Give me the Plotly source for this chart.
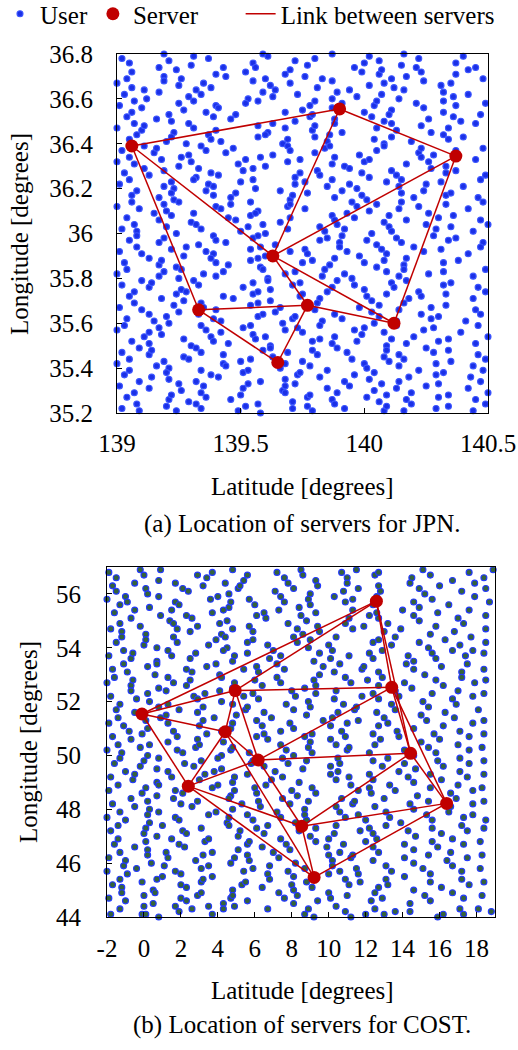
import plotly.graph_objects as go

FONT = "Liberation Serif, Times New Roman, serif"

# ---------------- data: JPN ----------------
jpn_server_lon = [139.06, 139.90, 140.37, 139.63, 139.33, 139.77, 140.12, 139.65]
jpn_server_lat = [36.39, 36.555, 36.345, 35.90, 35.66, 35.68, 35.60, 35.425]
jpn_links = [(0, 1), (1, 2), (0, 3), (0, 4), (1, 3), (2, 3), (2, 6),
             (3, 5), (3, 6), (4, 5), (4, 7), (5, 7), (5, 6)]
jpn_xtick_vals = [139, 139.5, 140, 140.5]
jpn_xtick_text = ["139", "139.5", "140", "140.5"]
jpn_ytick_vals = [35.2, 35.4, 35.6, 35.8, 36.0, 36.2, 36.4, 36.6, 36.8]
jpn_ytick_text = ["35.2", "35.4", "35.6", "35.8", "36", "36.2", "36.4", "36.6", "36.8"]

# user locations "lon,lat"
jpn_users = """
139.02,36.78 139.05,36.76 139.19,36.80 139.21,36.77 139.30,36.75 139.31,36.79 139.37,36.78 139.55,36.76 139.59,36.80 139.61,36.79 139.72,36.77 139.77,36.75 139.80,36.78 139.87,36.80 140.00,36.76 140.02,36.79 140.06,36.77 140.15,36.75 140.16,36.80 140.22,36.78 140.37,36.76 140.40,36.79
139.06,36.72 139.17,36.74 139.19,36.70 139.24,36.73 139.40,36.71 139.43,36.74 139.44,36.70 139.52,36.72 139.56,36.74 139.68,36.71 139.70,36.73 139.76,36.70 139.96,36.74 139.99,36.72 140.06,36.71 140.07,36.73 140.17,36.70 140.21,36.74 140.23,36.72 140.37,36.71 140.42,36.73 140.45,36.74
139.00,36.67 139.04,36.69 139.06,36.65 139.19,36.68 139.25,36.66 139.26,36.69 139.35,36.67 139.38,36.65 139.55,36.68 139.60,36.69 139.62,36.66 139.70,36.67 139.81,36.65 139.83,36.69 139.87,36.68 140.02,36.66 140.08,36.67 140.11,36.69 140.12,36.65 140.24,36.68 140.31,36.66 140.35,36.67 140.48,36.69
139.03,36.62 139.11,36.64 139.12,36.60 139.17,36.63 139.29,36.61 139.32,36.64 139.34,36.62 139.53,36.60 139.59,36.63 139.63,36.61 139.64,36.64 139.73,36.62 139.87,36.60 139.89,36.63 139.94,36.64 139.97,36.61 140.07,36.62 140.14,36.60 140.16,36.64 140.32,36.63 140.36,36.61 140.42,36.62
139.01,36.57 139.07,36.59 139.10,36.56 139.25,36.58 139.27,36.55 139.31,36.59 139.40,36.57 139.41,36.56 139.52,36.58 139.57,36.59 139.75,36.55 139.78,36.57 139.80,36.59 139.87,36.56 139.91,36.58 140.04,36.57 140.05,36.59 140.11,36.55 140.21,36.58 140.24,36.56 140.32,36.59 140.37,36.57 140.49,36.58
139.04,36.52 139.06,36.54 139.16,36.51 139.21,36.53 139.22,36.50 139.36,36.54 139.39,36.52 139.46,36.51 139.48,36.53 139.68,36.54 139.72,36.50 139.78,36.52 139.79,36.53 139.88,36.51 140.00,36.54 140.03,36.52 140.08,36.50 140.10,36.53 140.26,36.51 140.32,36.54 140.36,36.52 140.39,36.50 140.47,36.53
139.00,36.47 139.07,36.49 139.10,36.46 139.11,36.48 139.23,36.45 139.29,36.49 139.31,36.47 139.40,36.46 139.57,36.48 139.61,36.45 139.63,36.49 139.68,36.47 139.79,36.46 139.80,36.48 139.88,36.49 139.91,36.45 140.05,36.47 140.11,36.49 140.13,36.46 140.23,36.48 140.27,36.45 140.34,36.47 140.45,36.49
139.05,36.42 139.08,36.44 139.20,36.41 139.22,36.43 139.28,36.40 139.37,36.44 139.38,36.42 139.42,36.41 139.57,36.43 139.60,36.44 139.67,36.40 139.69,36.42 139.80,36.43 139.85,36.41 139.86,36.44 140.04,36.42 140.08,36.40 140.11,36.43 140.19,36.41 140.32,36.44 140.34,36.42 140.40,36.43
139.02,36.37 139.11,36.39 139.15,36.36 139.16,36.38 139.29,36.35 139.34,36.39 139.36,36.37 139.44,36.36 139.47,36.38 139.63,36.35 139.69,36.39 139.70,36.37 139.80,36.36 139.84,36.38 139.86,36.39 139.98,36.35 140.05,36.37 140.08,36.39 140.22,36.36 140.23,36.38 140.28,36.35 140.37,36.37 140.48,36.38
139.00,36.32 139.05,36.34 139.07,36.31 139.18,36.33 139.25,36.30 139.26,36.34 139.30,36.32 139.49,36.31 139.52,36.33 139.58,36.34 139.60,36.30 139.69,36.32 139.74,36.33 139.87,36.31 139.88,36.34 139.92,36.30 140.00,36.32 140.02,36.33 140.17,36.31 140.23,36.34 140.26,36.32 140.33,36.30 140.45,36.33
139.03,36.27 139.11,36.29 139.13,36.26 139.19,36.28 139.32,36.25 139.33,36.29 139.38,36.27 139.41,36.26 139.51,36.28 139.55,36.29 139.72,36.25 139.74,36.27 139.81,36.28 139.82,36.26 139.94,36.29 139.99,36.27 140.02,36.25 140.11,36.28 140.13,36.26 140.27,36.29 140.33,36.27 140.37,36.28 140.49,36.26
139.01,36.22 139.05,36.24 139.19,36.21 139.22,36.23 139.23,36.20 139.31,36.24 139.37,36.22 139.39,36.21 139.50,36.23 139.55,36.24 139.56,36.20 139.72,36.22 139.76,36.23 139.85,36.21 139.87,36.24 139.94,36.22 139.97,36.20 140.09,36.23 140.14,36.21 140.15,36.24 140.25,36.22 140.31,36.23 140.40,36.21 140.47,36.24
139.06,36.17 139.08,36.19 139.17,36.16 139.22,36.18 139.23,36.15 139.36,36.19 139.39,36.17 139.46,36.16 139.48,36.18 139.66,36.19 139.70,36.15 139.71,36.17 139.77,36.18 139.88,36.16 139.91,36.19 139.99,36.17 140.01,36.15 140.15,36.18 140.20,36.16 140.24,36.19 140.33,36.17 140.35,36.18 140.46,36.16
139.00,36.12 139.06,36.14 139.09,36.11 139.19,36.13 139.20,36.10 139.25,36.14 139.40,36.12 139.42,36.11 139.46,36.13 139.54,36.14 139.57,36.10 139.69,36.12 139.70,36.13 139.76,36.11 139.95,36.14 139.97,36.12 140.02,36.10 140.05,36.13 140.14,36.11 140.15,36.14 140.22,36.12 140.33,36.13 140.42,36.11 140.48,36.14
139.04,36.07 139.15,36.09 139.17,36.06 139.22,36.08 139.30,36.05 139.31,36.09 139.45,36.07 139.48,36.06 139.54,36.08 139.56,36.09 139.66,36.05 139.70,36.07 139.87,36.08 139.88,36.06 139.93,36.09 139.96,36.07 140.08,36.05 140.10,36.08 140.17,36.06 140.26,36.09 140.30,36.07 140.36,36.08 140.47,36.06
139.02,36.02 139.07,36.04 139.08,36.01 139.20,36.03 139.24,36.00 139.32,36.04 139.34,36.02 139.50,36.01 139.53,36.03 139.59,36.04 139.60,36.00 139.69,36.02 139.82,36.03 139.84,36.01 139.89,36.04 139.92,36.02 140.03,36.00 140.10,36.03 140.11,36.01 140.25,36.04 140.29,36.02 140.35,36.03 140.44,36.01 140.50,36.04
139.05,35.97 139.08,35.99 139.17,35.96 139.19,35.98 139.33,35.95 139.39,35.99 139.40,35.97 139.44,35.96 139.55,35.98 139.57,35.99 139.64,35.95 139.82,35.97 139.85,35.98 139.90,35.96 139.91,35.99 140.01,35.97 140.05,35.95 140.13,35.98 140.15,35.96 140.28,35.99 140.34,35.97 140.37,35.98 140.48,35.96
139.01,35.92 139.08,35.94 139.10,35.91 139.22,35.93 139.27,35.90 139.28,35.94 139.36,35.92 139.39,35.91 139.54,35.93 139.58,35.94 139.60,35.90 139.70,35.92 139.76,35.93 139.77,35.91 139.90,35.94 139.93,35.92 139.98,35.90 140.07,35.93 140.09,35.91 140.20,35.94 140.24,35.92 140.31,35.93 140.42,35.91 140.47,35.94
139.03,35.87 139.13,35.89 139.17,35.86 139.18,35.88 139.24,35.85 139.38,35.89 139.40,35.87 139.45,35.86 139.54,35.88 139.57,35.89 139.58,35.85 139.75,35.87 139.79,35.88 139.86,35.86 139.88,35.89 140.00,35.87 140.05,35.85 140.08,35.88 140.16,35.86 140.17,35.89 140.32,35.87 140.38,35.88
139.00,35.82 139.04,35.84 139.17,35.81 139.19,35.83 139.25,35.80 139.26,35.84 139.35,35.82 139.40,35.81 139.43,35.83 139.59,35.84 139.61,35.80 139.68,35.82 139.72,35.83 139.83,35.81 139.84,35.84 139.92,35.82 139.95,35.80 140.09,35.83 140.14,35.81 140.16,35.84 140.26,35.82 140.32,35.83 140.44,35.81 140.49,35.84
139.02,35.77 139.10,35.79 139.13,35.76 139.14,35.78 139.26,35.75 139.31,35.79 139.33,35.77 139.51,35.76 139.55,35.78 139.61,35.79 139.62,35.75 139.71,35.77 139.74,35.78 139.87,35.76 139.89,35.79 139.96,35.77 140.00,35.75 140.11,35.78 140.12,35.76 140.17,35.79 140.32,35.77 140.35,35.78 140.46,35.76
139.05,35.72 139.07,35.74 139.18,35.71 139.24,35.73 139.27,35.70 139.28,35.74 139.43,35.72 139.47,35.71 139.55,35.73 139.57,35.74 139.62,35.70 139.74,35.72 139.75,35.73 139.82,35.71 139.85,35.74 140.01,35.72 140.03,35.70 140.09,35.73 140.18,35.71 140.22,35.74 140.23,35.72 140.33,35.73 140.44,35.71 140.49,35.74
139.01,35.67 139.07,35.69 139.10,35.66 139.23,35.68 139.25,35.65 139.34,35.69 139.35,35.67 139.40,35.66 139.54,35.68 139.57,35.69 139.64,35.65 139.66,35.67 139.76,35.68 139.80,35.66 139.81,35.69 139.98,35.67 140.03,35.65 140.06,35.68 140.14,35.66 140.16,35.69 140.27,35.67 140.33,35.68 140.45,35.66
139.04,35.62 139.13,35.64 139.15,35.61 139.20,35.63 139.21,35.60 139.33,35.64 139.39,35.62 139.42,35.61 139.57,35.63 139.59,35.64 139.67,35.60 139.71,35.62 139.72,35.63 139.83,35.61 139.88,35.64 139.91,35.62 140.04,35.60 140.06,35.63 140.13,35.61 140.23,35.64 140.27,35.62 140.30,35.63 140.41,35.61 140.47,35.64
139.00,35.57 139.03,35.59 139.13,35.56 139.17,35.58 139.18,35.55 139.34,35.59 139.36,35.57 139.42,35.56 139.51,35.58 139.54,35.59 139.55,35.55 139.68,35.57 139.73,35.58 139.75,35.56 139.82,35.59 139.96,35.57 139.99,35.55 140.00,35.58 140.08,35.56 140.13,35.59 140.24,35.57 140.28,35.58 140.39,35.56 140.46,35.59
139.06,35.52 139.11,35.54 139.13,35.51 139.27,35.53 139.30,35.50 139.38,35.54 139.39,35.52 139.45,35.51 139.56,35.53 139.60,35.54 139.62,35.50 139.79,35.52 139.82,35.53 139.87,35.51 139.88,35.54 139.97,35.52 140.09,35.50 140.11,35.53 140.17,35.51 140.20,35.54 140.30,35.52 140.34,35.53 140.45,35.51 140.50,35.54
139.02,35.47 139.09,35.49 139.13,35.46 139.14,35.48 139.27,35.45 139.32,35.49 139.34,35.47 139.43,35.46 139.59,35.48 139.62,35.49 139.63,35.45 139.69,35.47 139.79,35.48 139.81,35.46 139.89,35.49 139.93,35.47 140.08,35.45 140.09,35.48 140.14,35.46 140.25,35.49 140.28,35.47 140.34,35.48 140.46,35.46
139.00,35.42 139.05,35.44 139.16,35.41 139.19,35.43 139.21,35.40 139.29,35.44 139.43,35.42 139.44,35.41 139.50,35.43 139.54,35.44 139.66,35.40 139.68,35.42 139.75,35.43 139.78,35.41 139.95,35.44 140.00,35.42 140.01,35.40 140.10,35.43 140.14,35.41 140.16,35.44 140.29,35.42 140.35,35.43 140.44,35.41 140.49,35.44
139.03,35.37 139.05,35.39 139.14,35.36 139.20,35.38 139.21,35.35 139.34,35.39 139.38,35.37 139.41,35.36 139.51,35.38 139.53,35.39 139.68,35.35 139.73,35.37 139.74,35.38 139.82,35.36 139.85,35.39 139.96,35.37 140.02,35.35 140.04,35.38 140.18,35.36 140.22,35.39 140.29,35.37 140.32,35.38 140.43,35.36 140.48,35.39
139.01,35.32 139.09,35.34 139.13,35.31 139.25,35.33 139.26,35.30 139.32,35.34 139.35,35.32 139.51,35.31 139.53,35.33 139.58,35.34 139.67,35.30 139.68,35.32 139.72,35.33 139.85,35.31 139.92,35.34 139.94,35.32 140.04,35.30 140.07,35.33 140.13,35.31 140.14,35.34 140.25,35.32 140.30,35.33 140.42,35.31 140.47,35.34
139.04,35.27 139.07,35.29 139.21,35.26 139.22,35.28 139.29,35.25 139.34,35.29 139.36,35.27 139.46,35.26 139.50,35.28 139.68,35.29 139.71,35.25 139.77,35.27 139.78,35.28 139.87,35.26 139.89,35.29 140.01,35.27 140.06,35.25 140.09,35.28 140.17,35.26 140.19,35.29 140.30,35.27 140.34,35.28 140.45,35.26 140.50,35.29
139.02,35.22 139.08,35.24 139.09,35.21 139.20,35.23 139.24,35.21 139.32,35.24 139.34,35.22 139.49,35.21 139.52,35.23 139.57,35.24 139.58,35.20 139.71,35.22 139.77,35.23 139.79,35.21 139.88,35.24 139.92,35.22 140.08,35.21 140.09,35.23 140.16,35.21 140.19,35.24 140.29,35.22 140.34,35.23 140.44,35.21 140.49,35.24
"""

# ---------------- data: COST ----------------
cost_server_lon = [12.58, 4.94, 13.41, -0.11, 4.40, 6.18, 14.43, 2.40, 16.38, 8.54, 9.21]
cost_server_lat = [55.73, 52.41, 52.53, 51.54, 50.88, 49.83, 50.08, 48.86, 48.22, 47.37, 45.47]
cost_links = [(0, 3), (0, 1), (0, 2), (0, 6), (1, 3), (1, 4), (1, 5), (1, 2),
              (3, 4), (3, 7), (4, 7), (4, 5), (4, 10), (5, 2), (5, 6), (5, 7),
              (5, 9), (7, 9), (7, 10), (9, 6), (9, 8), (9, 10), (10, 8),
              (2, 6), (6, 8), (2, 8)]
cost_xtick_vals = [-2, 0, 2, 4, 6, 8, 10, 12, 14, 16, 18]
cost_xtick_text = ["-2", "0", "2", "4", "6", "8", "10", "12", "14", "16", "18"]
cost_ytick_vals = [44, 46, 48, 50, 52, 54, 56]
cost_ytick_text = ["44", "46", "48", "50", "52", "54", "56"]

cost_users = """
-1.9,56.8 -1.5,56.6 -0.2,56.9 0.0,56.7 0.8,56.5 0.9,56.9 2.9,56.7 3.4,56.6 3.7,56.8 4.8,56.9 5.4,56.5 5.6,56.7 7.2,56.8 7.6,56.6 8.5,56.9 8.6,56.7 9.3,56.5 10.7,56.8 11.0,56.6 11.5,56.9 12.5,56.7 12.7,56.8 14.5,56.6 15.1,56.9 15.5,56.7 16.7,56.5 17.6,56.8 18.4,56.6 18.9,56.9
-1.7,56.3 -1.5,56.1 -0.5,56.4 0.1,56.2 0.2,56.0 1.7,56.4 2.1,56.2 2.4,56.1 3.2,56.3 4.4,56.4 4.6,56.0 5.1,56.2 5.2,56.3 7.1,56.1 7.8,56.4 8.1,56.2 9.0,56.0 9.4,56.3 10.8,56.1 11.0,56.4 11.6,56.2 12.7,56.3 12.8,56.1 14.4,56.4 14.9,56.2 15.2,56.0 16.0,56.3 17.2,56.1 17.9,56.4 18.5,56.2
-2.0,55.8 -1.3,55.6 -1.0,55.9 -0.9,55.7 0.3,55.5 0.8,55.9 1.7,55.7 1.9,55.6 3.6,55.8 4.0,55.9 4.6,55.5 4.7,55.7 5.7,55.8 6.0,55.6 7.4,55.9 7.6,55.7 8.4,55.5 8.9,55.8 9.0,55.6 10.3,55.9 10.9,55.7 11.3,55.8 12.4,55.6 12.6,55.9 14.6,55.7 14.9,55.5 15.6,55.8 16.5,55.6 17.9,55.9 18.7,55.7
-1.6,55.3 -0.7,55.1 -0.5,55.4 0.9,55.2 1.4,55.0 1.5,55.4 2.3,55.2 2.6,55.1 3.7,55.3 4.3,55.4 4.5,55.0 6.1,55.2 6.5,55.3 6.6,55.1 7.3,55.4 8.5,55.2 8.8,55.0 9.3,55.3 11.1,55.1 11.3,55.4 12.2,55.2 12.6,55.3 12.7,55.1 14.0,55.4 14.6,55.2 14.9,55.0 15.9,55.3 17.0,55.1 17.6,55.4 18.5,55.2
-1.8,54.7 -1.3,54.9 -1.2,54.6 -0.2,54.8 0.1,54.5 1.6,54.9 1.8,54.7 2.5,54.6 2.9,54.8 4.1,54.9 4.2,54.5 4.8,54.7 5.7,54.8 5.9,54.6 7.8,54.9 8.3,54.7 8.6,54.5 9.4,54.8 9.5,54.6 10.9,54.9 11.3,54.7 11.9,54.8 13.0,54.6 13.2,54.9 13.9,54.7 15.5,54.5 15.8,54.8 16.8,54.6 17.3,54.9 18.5,54.7
-1.5,54.2 -1.2,54.4 0.0,54.1 0.1,54.3 0.7,54.0 1.6,54.4 1.8,54.2 3.5,54.1 3.9,54.3 4.4,54.4 4.5,54.0 5.6,54.2 5.9,54.3 6.7,54.1 8.1,54.4 8.3,54.2 8.9,54.0 9.0,54.3 10.0,54.1 10.4,54.4 12.4,54.2 12.7,54.3 13.4,54.1 13.6,54.4 14.9,54.2 15.4,54.0 16.3,54.3 17.1,54.1 17.7,54.4 18.5,54.2
-1.9,53.7 -1.1,53.9 -0.7,53.6 -0.6,53.8 0.7,53.5 1.3,53.9 1.5,53.7 2.5,53.6 2.8,53.8 4.3,53.9 4.8,53.5 4.9,53.7 5.6,53.8 6.8,53.6 7.0,53.9 7.4,53.7 9.2,53.5 9.5,53.8 10.1,53.6 10.2,53.9 11.1,53.7 12.2,53.8 12.4,53.6 12.9,53.9 14.3,53.7 14.6,53.5 15.6,53.8 15.8,53.6 16.7,53.9 17.4,53.7 18.4,53.8 17.8,53.9
-1.7,53.2 -1.1,53.4 -0.9,53.1 0.2,53.3 0.6,53.0 0.7,53.4 2.3,53.2 2.6,53.1 3.4,53.3 3.9,53.4 4.1,53.0 5.4,53.2 6.1,53.3 6.2,53.1 7.2,53.4 7.6,53.2 9.5,53.0 9.7,53.3 10.3,53.1 10.6,53.4 11.8,53.2 11.9,53.3 12.7,53.1 14.2,53.4 14.6,53.2 15.2,53.0 16.1,53.3 17.2,53.1 17.5,53.4 18.4,53.2
-2.0,52.7 -1.6,52.9 -0.7,52.6 -0.6,52.8 0.8,52.5 1.3,52.9 1.6,52.7 2.3,52.6 2.5,52.8 4.2,52.9 4.8,52.5 4.9,52.7 6.0,52.8 6.4,52.6 7.2,52.9 7.4,52.7 8.7,52.5 9.2,52.8 9.3,52.6 10.9,52.9 11.2,52.7 12.1,52.8 12.7,52.6 12.9,52.9 14.1,52.7 14.5,52.5 15.8,52.8 16.2,52.6 17.2,52.9 17.9,52.7 18.5,52.8
-1.8,52.2 -0.7,52.4 -0.4,52.1 0.2,52.3 0.3,52.0 1.2,52.4 2.7,52.2 2.9,52.1 3.3,52.3 4.1,52.4 4.2,52.0 5.4,52.2 5.9,52.3 6.2,52.1 8.0,52.4 8.2,52.2 8.9,52.0 9.3,52.3 10.3,52.1 10.4,52.4 11.8,52.2 12.4,52.3 12.7,52.1 13.6,52.4 13.8,52.2 15.1,52.0 15.6,52.3 16.7,52.1 17.0,52.4 17.8,52.2 18.4,52.3
-1.5,51.7 -1.3,51.9 -0.5,51.6 0.8,51.8 1.2,51.5 1.3,51.9 1.9,51.7 2.9,51.6 3.2,51.8 4.8,51.9 5.0,51.5 5.5,51.7 5.6,51.8 6.5,51.6 7.7,51.9 8.1,51.7 8.8,51.5 9.0,51.8 10.5,51.6 10.8,51.9 11.4,51.7 11.5,51.8 12.6,51.6 13.4,51.9 13.6,51.7 15.0,51.5 15.4,51.8 16.3,51.6 16.9,51.9 18.1,51.7
-1.9,51.2 -1.4,51.4 -1.1,51.1 0.1,51.3 0.2,51.0 0.9,51.4 1.3,51.2 3.0,51.1 3.2,51.3 3.8,51.4 4.7,51.0 4.8,51.2 6.1,51.3 6.4,51.1 6.9,51.4 7.9,51.2 8.1,51.0 9.7,51.3 10.1,51.1 10.2,51.4 11.0,51.2 11.6,51.3 12.7,51.1 13.0,51.4 13.2,51.2 14.6,51.0 15.3,51.3 16.2,51.1 16.8,51.4 17.8,51.2 18.4,51.3
-1.7,50.7 -0.8,50.9 -0.7,50.6 -0.1,50.8 1.3,50.5 1.6,50.9 1.8,50.7 2.9,50.6 3.4,50.8 4.2,50.9 4.3,50.5 6.1,50.7 6.5,50.8 6.7,50.6 7.4,50.9 8.7,50.7 9.0,50.5 9.1,50.8 10.1,50.6 10.7,50.9 10.9,50.7 12.4,50.8 12.8,50.6 13.7,50.9 13.8,50.7 15.0,50.5 15.7,50.8 16.0,50.6 17.1,50.9 17.6,50.7 18.4,50.8
-2.0,50.2 -1.4,50.4 -1.2,50.1 -0.2,50.3 0.2,50.0 0.3,50.4 1.8,50.2 2.1,50.1 2.8,50.3 3.0,50.4 4.2,50.0 4.7,50.2 4.8,50.3 5.7,50.1 7.4,50.4 7.7,50.2 8.1,50.0 8.9,50.3 9.1,50.1 10.4,50.4 11.0,50.2 11.1,50.3 12.2,50.1 12.5,50.4 14.1,50.2 14.6,50.0 15.4,50.3 15.8,50.1 17.0,50.4 17.6,50.2 18.3,50.3
-1.6,49.7 -1.3,49.9 -0.2,49.6 0.0,49.8 0.7,49.5 0.8,49.9 2.2,49.7 2.7,49.6 3.1,49.8 4.0,49.9 4.2,49.5 5.8,49.7 5.9,49.8 6.5,49.6 7.5,49.9 7.8,49.7 8.6,49.5 8.8,49.8 10.1,49.6 10.5,49.9 10.6,49.7 12.4,49.8 12.9,49.6 13.2,49.9 14.1,49.7 14.7,49.5 15.9,49.8 16.2,49.6 17.1,49.9 17.6,49.7 18.4,49.8
-1.8,49.2 -1.0,49.4 -0.6,49.1 -0.5,49.3 0.7,49.0 1.3,49.4 1.5,49.2 3.0,49.1 3.3,49.3 3.8,49.4 4.8,49.0 4.9,49.2 5.6,49.3 6.9,49.1 7.1,49.4 7.5,49.2 8.4,49.0 10.1,49.3 10.4,49.1 10.5,49.4 11.1,49.2 12.2,49.3 12.4,49.1 13.8,49.4 14.3,49.2 14.6,49.0 15.5,49.3 16.1,49.1 17.1,49.4 17.5,49.2 18.4,49.3
-1.9,48.7 -1.4,48.9 -0.1,48.6 0.1,48.8 0.7,48.5 0.8,48.9 1.7,48.7 2.1,48.6 3.7,48.8 4.0,48.9 4.7,48.5 4.9,48.7 6.0,48.8 6.1,48.6 6.6,48.9 8.0,48.7 8.3,48.5 9.1,48.8 9.3,48.6 11.2,48.9 11.6,48.7 12.2,48.8 12.3,48.6 13.3,48.9 13.6,48.7 14.8,48.5 15.5,48.8 16.6,48.6 17.0,48.9 17.8,48.7 18.3,48.8
-1.7,48.2 -0.7,48.4 -0.5,48.1 0.2,48.3 0.3,48.0 1.6,48.4 2.0,48.2 2.6,48.1 2.9,48.3 4.6,48.4 4.8,48.0 5.3,48.2 6.2,48.3 6.3,48.1 7.5,48.4 7.9,48.2 8.7,48.0 8.9,48.3 10.4,48.1 10.7,48.4 11.3,48.2 11.4,48.3 12.5,48.1 13.0,48.4 14.4,48.2 14.6,48.0 15.4,48.3 16.6,48.1 16.9,48.4 17.8,48.2 18.4,48.3
-2.0,47.7 -1.3,47.9 -1.0,47.6 0.2,47.8 0.3,47.5 0.8,47.9 1.7,47.7 1.9,47.6 3.5,47.8 3.9,47.9 4.5,47.5 4.6,47.7 5.6,47.8 5.9,47.6 7.2,47.9 7.4,47.7 8.2,47.5 8.7,47.8 8.8,47.6 10.6,47.9 10.9,47.7 11.6,47.8 12.0,47.6 13.1,47.9 13.3,47.7 13.9,47.5 15.3,47.8 15.6,47.6 16.5,47.9 17.3,47.7 17.8,47.8 18.5,47.6
-1.8,47.2 -1.4,47.4 0.0,47.1 0.1,47.3 0.7,47.0 1.0,47.4 2.1,47.2 2.3,47.1 3.1,47.3 4.6,47.4 5.1,47.0 5.2,47.2 6.1,47.3 6.5,47.1 6.7,47.4 8.4,47.2 9.0,47.0 9.3,47.3 10.3,47.1 10.4,47.4 11.7,47.2 12.2,47.3 12.4,47.1 13.1,47.4 14.3,47.2 14.7,47.0 15.6,47.3 16.1,47.1 17.2,47.4 17.5,47.2 18.4,47.3
-1.6,46.7 -1.4,46.9 -0.5,46.6 0.1,46.8 0.2,46.5 1.5,46.9 1.9,46.7 2.2,46.6 3.3,46.8 3.5,46.9 5.1,46.5 5.6,46.7 5.7,46.8 6.4,46.6 7.4,46.9 7.7,46.7 7.9,46.5 9.3,46.8 9.9,46.6 10.0,46.9 10.8,46.7 12.0,46.8 12.4,46.6 12.6,46.9 14.1,46.7 14.6,46.5 15.6,46.8 15.9,46.6 16.7,46.9 17.3,46.7 18.2,46.8
-1.9,46.2 -1.3,46.4 -1.0,46.1 0.2,46.3 0.4,46.0 1.2,46.4 1.3,46.2 2.8,46.1 3.2,46.3 3.7,46.4 4.7,46.0 4.9,46.2 5.6,46.3 5.7,46.1 7.0,46.4 7.3,46.2 8.2,46.0 10.0,46.3 10.2,46.1 10.6,46.4 11.2,46.2 11.3,46.3 12.4,46.1 12.7,46.4 14.1,46.2 14.6,46.0 15.4,46.3 16.4,46.1 16.6,46.4 17.5,46.2 18.3,46.3
-2.0,45.7 -1.1,45.9 -0.9,45.6 -0.4,45.8 1.0,45.5 1.1,45.9 1.7,45.7 2.0,45.6 3.1,45.8 3.5,45.9 3.7,45.5 5.4,45.7 5.9,45.8 6.7,45.6 6.8,45.9 7.8,45.7 8.1,45.5 8.7,45.8 10.0,45.6 10.2,45.9 10.6,45.7 11.5,45.8 11.6,45.6 13.1,45.9 13.4,45.7 14.1,45.5 15.1,45.8 15.5,45.6 16.7,45.9 17.2,45.7 18.2,45.8
-1.7,45.2 -1.3,45.4 -1.2,45.1 -0.1,45.3 0.5,45.0 0.7,45.4 2.0,45.2 2.3,45.1 3.1,45.3 3.2,45.4 4.8,45.0 5.3,45.2 5.5,45.3 6.4,45.1 6.8,45.4 8.0,45.2 8.1,45.0 8.8,45.3 9.1,45.1 10.9,45.4 11.1,45.2 11.7,45.3 12.7,45.1 13.1,45.4 13.2,45.2 14.6,45.0 15.5,45.3 16.1,45.1 17.2,45.4 17.6,45.2 18.4,45.3
-1.9,44.7 -1.2,44.9 -1.0,44.6 0.0,44.8 0.5,44.5 0.6,44.9 2.0,44.7 2.3,44.6 2.9,44.8 3.1,44.9 4.3,44.5 4.7,44.7 4.8,44.8 5.6,44.6 7.3,44.9 7.6,44.7 8.1,44.5 8.3,44.8 9.4,44.6 10.0,44.9 10.1,44.7 11.0,44.8 12.3,44.6 12.5,44.9 12.9,44.7 14.4,44.5 15.2,44.8 15.5,44.6 16.7,44.9 17.3,44.7 18.3,44.8
-1.8,44.1 -1.3,44.3 -0.1,44.1 0.0,44.4 0.1,44.1 0.8,44.0 1.7,44.4 1.9,44.2 2.6,44.3 3.5,44.4 3.7,44.1 4.3,44.3 4.9,44.4 6.7,44.3 8.7,44.1 8.9,44.3 9.2,44.0 10.4,44.4 10.9,44.2 11.2,44.0 12.0,44.1 12.5,44.3 13.0,44.1 13.6,44.2 14.4,44.2 15.9,44.0 16.2,44.1 17.1,44.3 17.3,44.1 18.1,44.3 18.8,44.2
"""

legend_names = ["User", "Server", "Link between servers"]
captions = ["(a) Location of servers for JPN.", "(b) Location of servers for COST."]
x_title = "Latitude [degrees]"
y_title = "Longitude [degrees]"


def parse_pairs(text):
    lon, lat = [], []
    for tok in text.split():
        a, b = tok.split(",")
        lon.append(float(a))
        lat.append(float(b))
    return lon, lat


def link_xy(lon, lat, links):
    xs, ys = [], []
    for i, j in links:
        xs += [lon[i], lon[j], None]
        ys += [lat[i], lat[j], None]
    return xs, ys


RED = "#c00000"
W, H = 518, 1050
NBSP = "\u00a0"

fig = go.Figure()

panels = [
    dict(users=jpn_users, slon=jpn_server_lon, slat=jpn_server_lat, links=jpn_links,
         xa="x", ya="y", fill="#1b30e6", edge="#3b55ff", show=True),
    dict(users=cost_users, slon=cost_server_lon, slat=cost_server_lat, links=cost_links,
         xa="x2", ya="y2", fill="#35633a", edge="#2238ff", show=False),
]

for p in panels:
    ulon, ulat = parse_pairs(p["users"])
    fig.add_trace(go.Scatter(
        x=ulon, y=ulat, mode="markers", name=legend_names[0], legendrank=1,
        xaxis=p["xa"], yaxis=p["ya"], showlegend=p["show"], cliponaxis=False,
        marker=dict(size=6, color=p["fill"], line=dict(width=1.1, color=p["edge"]))))
    lx, ly = link_xy(p["slon"], p["slat"], p["links"])
    fig.add_trace(go.Scatter(
        x=lx, y=ly, mode="lines", name=legend_names[2], legendrank=3,
        xaxis=p["xa"], yaxis=p["ya"], showlegend=p["show"],
        line=dict(color=RED, width=1.5)))
    fig.add_trace(go.Scatter(
        x=p["slon"], y=p["slat"], mode="markers", name=legend_names[1] + NBSP * 6,
        legendrank=2, xaxis=p["xa"], yaxis=p["ya"], showlegend=p["show"],
        cliponaxis=False, marker=dict(size=13, color=RED)))

tickfont = dict(family=FONT, size=25, color="black")
axis_common = dict(showline=True, linecolor="black", linewidth=1, mirror=True,
                   ticks="inside", ticklen=5, tickcolor="black", tickwidth=1,
                   showgrid=False, zeroline=False, tickfont=tickfont, fixedrange=True,
                   automargin=False)

fig.update_layout(
    template="none",
    width=W, height=H,
    margin=dict(l=0, r=0, t=0, b=0, pad=0, autoexpand=False),
    paper_bgcolor="white", plot_bgcolor="white",
    font=dict(family=FONT, size=25, color="black"),
    showlegend=True,
    legend=dict(orientation="h", x=0.0, y=1 + 9 / H, xanchor="left", yanchor="top",
                font=dict(family=FONT, size=25, color="black"),
                bgcolor="rgba(0,0,0,0)", itemsizing="trace", traceorder="normal",
                borderwidth=0),
    xaxis=dict(axis_common, domain=[117 / W, 488 / W], range=[139, 140.5],
               tickvals=jpn_xtick_vals, ticktext=jpn_xtick_text, anchor="y",
               ticklabelstandoff=8),
    yaxis=dict(axis_common, domain=[1 - 413 / H, 1 - 54 / H], range=[35.2, 36.8],
               tickvals=jpn_ytick_vals, ticktext=jpn_ytick_text, anchor="x",
               ticklabelstandoff=18),
    xaxis2=dict(axis_common, domain=[107 / W, 495 / W], range=[-2, 19],
                tickvals=cost_xtick_vals, ticktext=cost_xtick_text, anchor="y2",
                ticklabelstandoff=9),
    yaxis2=dict(axis_common, domain=[1 - 917 / H, 1 - 567 / H], range=[44, 57],
                tickvals=cost_ytick_vals, ticktext=cost_ytick_text, anchor="x2",
                ticklabelstandoff=20),
)

annot_font = dict(family=FONT, size=25, color="black")
annots = [
    (x_title, 302, 486, 0),
    (y_title, 19, 234, -90),
    (captions[0], 302, 524, 0),
    (x_title, 302, 990, 0),
    (y_title, 28, 742, -90),
    (captions[1], 302, 1025, 0),
]
for text, px, py, ang in annots:
    fig.add_annotation(text=text, xref="paper", yref="paper", x=px / W, y=1 - py / H,
                       xanchor="center", yanchor="middle", showarrow=False,
                       textangle=ang, font=annot_font)

fig.write_html("out.html",
               config={"displayModeBar": False, "staticPlot": True},
               post_script="document.body.style.margin='0';document.body.style.padding='0';")
